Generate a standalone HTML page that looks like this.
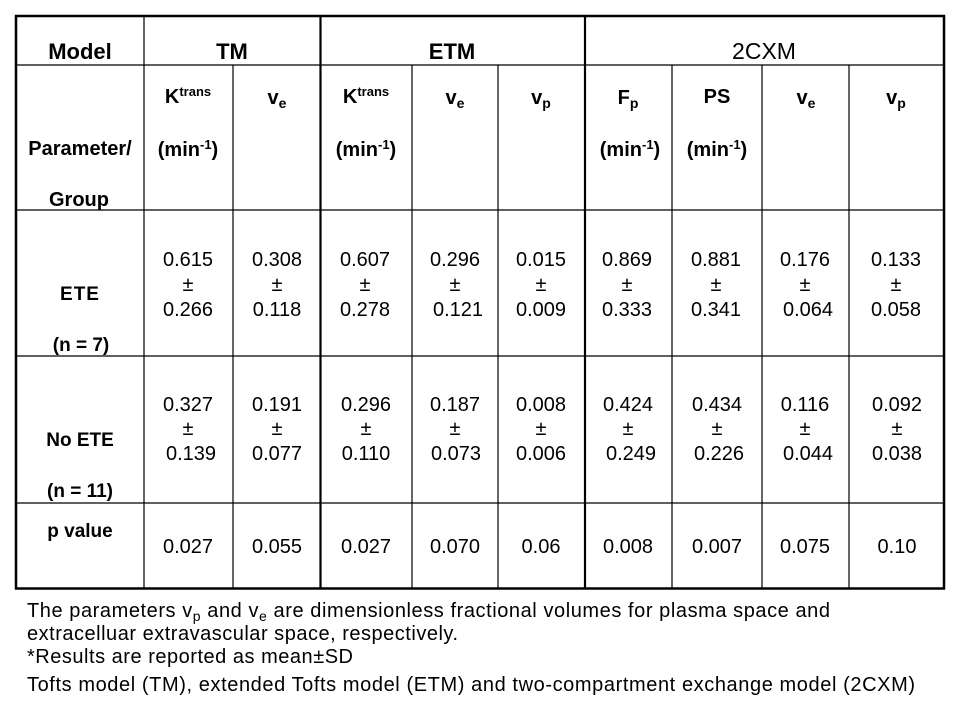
<!DOCTYPE html>
<html>
<head>
<meta charset="utf-8">
<style>
  html, body { margin: 0; padding: 0; background: #fff; }
  svg { display: block; }
  text { font-family: "Liberation Sans", Arial, sans-serif; fill: #000; }
  .h1 { font-size: 22px; font-weight: bold; }
  .h2 { font-size: 20px; font-weight: bold; }
  .lab { font-size: 19px; font-weight: bold; }
  .num { font-size: 20px; }
  .fn { font-size: 20px; }
</style>
</head>
<body>
<svg width="960" height="720" viewBox="0 0 960 720" xmlns="http://www.w3.org/2000/svg">
  <rect x="0" y="0" width="960" height="720" fill="#fff"/>

  <!-- grid lines -->
  <g stroke="#000" fill="none">
    <rect x="16" y="16" width="928" height="572.5" stroke-width="2.5"/>
    <line x1="16" y1="65" x2="944" y2="65" stroke-width="1.2"/>
    <line x1="16" y1="210" x2="944" y2="210" stroke-width="1.2"/>
    <line x1="16" y1="356" x2="944" y2="356" stroke-width="1.2"/>
    <line x1="16" y1="503" x2="944" y2="503" stroke-width="1.2"/>

    <line x1="144" y1="16" x2="144" y2="589" stroke-width="1.2"/>
    <line x1="233" y1="65" x2="233" y2="589" stroke-width="1.2"/>
    <line x1="320.5" y1="16" x2="320.5" y2="589" stroke-width="2.2"/>
    <line x1="412" y1="65" x2="412" y2="589" stroke-width="1.2"/>
    <line x1="498" y1="65" x2="498" y2="589" stroke-width="1.2"/>
    <line x1="585" y1="16" x2="585" y2="589" stroke-width="2.2"/>
    <line x1="672" y1="65" x2="672" y2="589" stroke-width="1.2"/>
    <line x1="762" y1="65" x2="762" y2="589" stroke-width="1.2"/>
    <line x1="849" y1="65" x2="849" y2="589" stroke-width="1.2"/>
  </g>

  <!-- header row 1 -->
  <text class="h1" x="80" y="59" text-anchor="middle">Model</text>
  <text class="h1" x="232" y="59" text-anchor="middle">TM</text>
  <text class="h1" x="452" y="59" text-anchor="middle">ETM</text>
  <text x="764" y="59" text-anchor="middle" style="font-size:23px">2CXM</text>

  <!-- header row 2 -->
  <text class="lab" x="80" y="155" text-anchor="middle" style="font-size:20px">Parameter/</text>
  <text class="lab" x="79" y="206" text-anchor="middle" style="font-size:20px">Group</text>

  <text class="h2" x="188" y="103" text-anchor="middle">K<tspan font-size="13" dy="-7">trans</tspan></text>
  <text class="h2" x="188" y="156" text-anchor="middle">(min<tspan font-size="13" dy="-7">-1</tspan><tspan dy="7">)</tspan></text>
  <text class="h2" x="277" y="104" text-anchor="middle">v<tspan font-size="14" dy="4">e</tspan></text>

  <text class="h2" x="366" y="103" text-anchor="middle">K<tspan font-size="13" dy="-7">trans</tspan></text>
  <text class="h2" x="366" y="156" text-anchor="middle">(min<tspan font-size="13" dy="-7">-1</tspan><tspan dy="7">)</tspan></text>
  <text class="h2" x="455" y="104" text-anchor="middle">v<tspan font-size="14" dy="4">e</tspan></text>
  <text class="h2" x="541" y="104" text-anchor="middle">v<tspan font-size="14" dy="4">p</tspan></text>

  <text class="h2" x="628" y="104" text-anchor="middle">F<tspan font-size="14" dy="4">p</tspan></text>
  <text class="h2" x="630" y="156" text-anchor="middle">(min<tspan font-size="13" dy="-7">-1</tspan><tspan dy="7">)</tspan></text>
  <text class="h2" x="717" y="103" text-anchor="middle">PS</text>
  <text class="h2" x="717" y="156" text-anchor="middle">(min<tspan font-size="13" dy="-7">-1</tspan><tspan dy="7">)</tspan></text>
  <text class="h2" x="806" y="104" text-anchor="middle">v<tspan font-size="14" dy="4">e</tspan></text>
  <text class="h2" x="896" y="104" text-anchor="middle">v<tspan font-size="14" dy="4">p</tspan></text>

  <!-- ETE row -->
  <text class="lab" x="80" y="300" text-anchor="middle" style="letter-spacing:1px">ETE</text>
  <text class="lab" x="81" y="351" text-anchor="middle">(n = 7)</text>

  <g text-anchor="middle">
    <text class="num" x="188" y="266" text-anchor="middle">0.615</text><text class="num" x="188" y="291" text-anchor="middle">±</text><text class="num" x="188" y="316" text-anchor="middle">0.266</text>
    <text class="num" x="277" y="266" text-anchor="middle">0.308</text><text class="num" x="277" y="291" text-anchor="middle">±</text><text class="num" x="277" y="316" text-anchor="middle">0.118</text>
    <text class="num" x="365" y="266" text-anchor="middle">0.607</text><text class="num" x="365" y="291" text-anchor="middle">±</text><text class="num" x="365" y="316" text-anchor="middle">0.278</text>
    <text class="num" x="455" y="266" text-anchor="middle">0.296</text><text class="num" x="455" y="291" text-anchor="middle">±</text><text class="num" x="458" y="316" text-anchor="middle">0.121</text>
    <text class="num" x="541" y="266" text-anchor="middle">0.015</text><text class="num" x="541" y="291" text-anchor="middle">±</text><text class="num" x="541" y="316" text-anchor="middle">0.009</text>
    <text class="num" x="627" y="266" text-anchor="middle">0.869</text><text class="num" x="627" y="291" text-anchor="middle">±</text><text class="num" x="627" y="316" text-anchor="middle">0.333</text>
    <text class="num" x="716" y="266" text-anchor="middle">0.881</text><text class="num" x="716" y="291" text-anchor="middle">±</text><text class="num" x="716" y="316" text-anchor="middle">0.341</text>
    <text class="num" x="805" y="266" text-anchor="middle">0.176</text><text class="num" x="805" y="291" text-anchor="middle">±</text><text class="num" x="808" y="316" text-anchor="middle">0.064</text>
    <text class="num" x="896" y="266" text-anchor="middle">0.133</text><text class="num" x="896" y="291" text-anchor="middle">±</text><text class="num" x="896" y="316" text-anchor="middle">0.058</text>
  </g>

  <!-- No ETE row -->
  <text class="lab" x="80" y="446" text-anchor="middle">No ETE</text>
  <text class="lab" x="80" y="497" text-anchor="middle">(n = 11)</text>

  <g>
    <text class="num" x="188" y="411" text-anchor="middle">0.327</text><text class="num" x="188" y="435" text-anchor="middle">±</text><text class="num" x="191" y="460" text-anchor="middle">0.139</text>
    <text class="num" x="277" y="411" text-anchor="middle">0.191</text><text class="num" x="277" y="435" text-anchor="middle">±</text><text class="num" x="277" y="460" text-anchor="middle">0.077</text>
    <text class="num" x="366" y="411" text-anchor="middle">0.296</text><text class="num" x="366" y="435" text-anchor="middle">±</text><text class="num" x="366" y="460" text-anchor="middle">0.110</text>
    <text class="num" x="455" y="411" text-anchor="middle">0.187</text><text class="num" x="455" y="435" text-anchor="middle">±</text><text class="num" x="456" y="460" text-anchor="middle">0.073</text>
    <text class="num" x="541" y="411" text-anchor="middle">0.008</text><text class="num" x="541" y="435" text-anchor="middle">±</text><text class="num" x="541" y="460" text-anchor="middle">0.006</text>
    <text class="num" x="628" y="411" text-anchor="middle">0.424</text><text class="num" x="628" y="435" text-anchor="middle">±</text><text class="num" x="631" y="460" text-anchor="middle">0.249</text>
    <text class="num" x="717" y="411" text-anchor="middle">0.434</text><text class="num" x="717" y="435" text-anchor="middle">±</text><text class="num" x="719" y="460" text-anchor="middle">0.226</text>
    <text class="num" x="805" y="411" text-anchor="middle">0.116</text><text class="num" x="805" y="435" text-anchor="middle">±</text><text class="num" x="808" y="460" text-anchor="middle">0.044</text>
    <text class="num" x="897" y="411" text-anchor="middle">0.092</text><text class="num" x="897" y="435" text-anchor="middle">±</text><text class="num" x="897" y="460" text-anchor="middle">0.038</text>
  </g>

  <!-- p value row -->
  <text class="lab" x="80" y="537" text-anchor="middle">p value</text>
  <text class="num" x="188" y="553" text-anchor="middle">0.027</text>
  <text class="num" x="277" y="553" text-anchor="middle">0.055</text>
  <text class="num" x="366" y="553" text-anchor="middle">0.027</text>
  <text class="num" x="455" y="553" text-anchor="middle">0.070</text>
  <text class="num" x="541" y="553" text-anchor="middle">0.06</text>
  <text class="num" x="628" y="553" text-anchor="middle">0.008</text>
  <text class="num" x="717" y="553" text-anchor="middle">0.007</text>
  <text class="num" x="805" y="553" text-anchor="middle">0.075</text>
  <text class="num" x="897" y="553" text-anchor="middle">0.10</text>

  <!-- footnotes -->
  <text class="fn" x="27" y="617" textLength="803" lengthAdjust="spacing">The parameters v<tspan font-size="14" dy="4">p</tspan><tspan dy="-4"> and v</tspan><tspan font-size="14" dy="4">e</tspan><tspan dy="-4"> are dimensionless fractional volumes for plasma space and</tspan></text>
  <text class="fn" x="27" y="640" textLength="431" lengthAdjust="spacing">extracelluar extravascular space, respectively.</text>
  <text class="fn" x="27" y="663" textLength="326" lengthAdjust="spacing">*Results are reported as mean±SD</text>
  <text class="fn" x="27" y="691" textLength="888" lengthAdjust="spacing">Tofts model (TM), extended Tofts model (ETM) and two-compartment exchange model (2CXM)</text>
</svg>
</body>
</html>
